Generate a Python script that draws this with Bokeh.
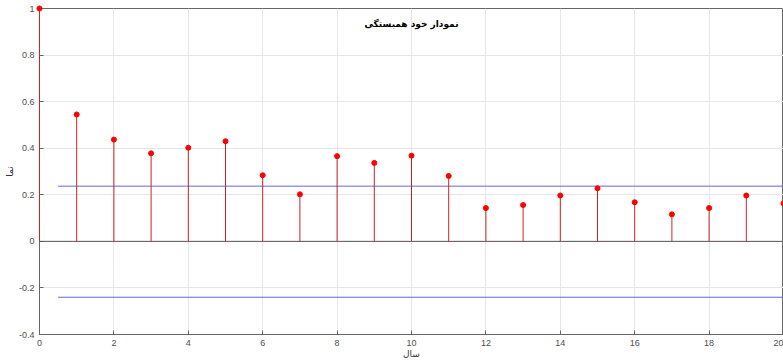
from bokeh.plotting import figure
from bokeh.embed import file_html
from bokeh.resources import INLINE
from bokeh.models import Range1d, FixedTicker, Label, Span

lags = list(range(0, 21))
acf = [1.0, 0.545, 0.437, 0.378, 0.402, 0.43, 0.284, 0.202, 0.366, 0.337, 0.368,
       0.281, 0.143, 0.156, 0.197, 0.228, 0.168, 0.116, 0.143, 0.197, 0.163]
bound_x = [0.5, 20]
upper = 0.237
lower = -0.24
x_ticks = [0, 2, 4, 6, 8, 10, 12, 14, 16, 18, 20]
y_ticks = [-0.4, -0.2, 0, 0.2, 0.4, 0.6, 0.8, 1]
y_tick_labels = ["-0.4", "-0.2", "0", "0.2", "0.4", "0.6", "0.8", "1"]

p = figure(width=783, height=361, output_backend="svg", toolbar_location=None,
           x_range=Range1d(0, 20), y_range=Range1d(-0.4, 1.0),
           min_border_left=39, min_border_right=0, min_border_top=8, min_border_bottom=27)
p.border_fill_color = "white"
p.background_fill_color = "white"
p.outline_line_color = "#666666"
p.outline_line_width = 1

for ax, ticks in ((p.xaxis, x_ticks), (p.yaxis, y_ticks)):
    ax.ticker = FixedTicker(ticks=ticks)
    ax.axis_line_color = "#666666"
    ax.major_tick_line_color = "#666666"
    ax.major_tick_in = 4
    ax.major_tick_out = 0
    ax.minor_tick_line_color = None
    ax.major_label_text_font = "Liberation Sans"
    ax.major_label_text_font_size = "9px"
    ax.major_label_text_color = "#4d4d4d"
    ax.axis_label_text_font = "DejaVu Sans"
    ax.axis_label_text_font_size = "9px"
    ax.axis_label_text_font_style = "normal"
    ax.axis_label_text_color = "#333333"

p.xaxis.major_label_standoff = 5
p.xaxis.axis_label = "سال"
p.xaxis.axis_label_standoff = 0
p.yaxis.major_label_standoff = 5
p.yaxis.axis_label = "نما"
p.yaxis.axis_label_standoff = 1
p.yaxis.major_label_overrides = {t: s for t, s in zip(y_ticks, y_tick_labels)}

p.grid.grid_line_color = "#e6e6e6"
p.grid.grid_line_width = 1

p.add_layout(Span(location=0, dimension="width", line_color="#555555", line_width=1))

p.line(bound_x, [upper, upper], line_color="#6464d8", line_width=1)
p.line(bound_x, [lower, lower], line_color="#6464d8", line_width=1)

p.segment(x0=lags, y0=[0] * len(lags), x1=lags, y1=acf, line_color="#d42020",
          line_width=1, level="overlay")
p.scatter(lags, acf, size=5, color="#ff0000", line_color="#ff0000", level="overlay")

p.add_layout(Label(x=10, y=0.935, text="نمودار خود همبستگی", text_align="center",
                   text_baseline="middle", text_font="DejaVu Sans",
                   text_font_size="9px", text_font_style="bold", text_color="#000000"))

open("out.html", "w").write(file_html(p, INLINE))
